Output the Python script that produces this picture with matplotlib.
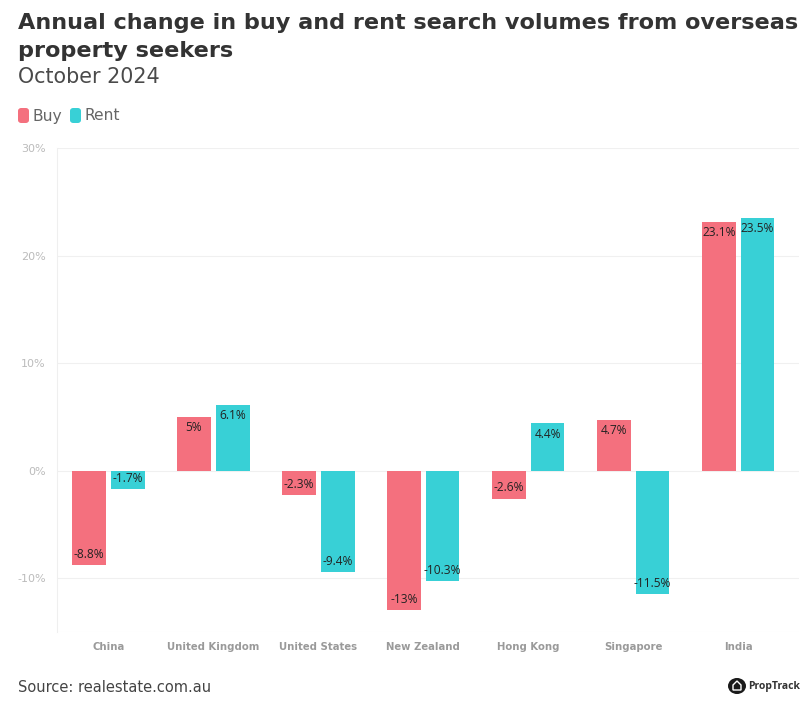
import matplotlib
matplotlib.use('Agg')
import matplotlib.pyplot as plt
from matplotlib.patches import FancyBboxPatch, Polygon

countries = ['China', 'United Kingdom', 'United States', 'New Zealand', 'Hong Kong', 'Singapore', 'India']
buy = [-8.8, 5, -2.3, -13, -2.6, 4.7, 23.1]
rent = [-1.7, 6.1, -9.4, -10.3, 4.4, -11.5, 23.5]
buy_labels = ['-8.8%', '5%', '-2.3%', '-13%', '-2.6%', '4.7%', '23.1%']
rent_labels = ['-1.7%', '6.1%', '-9.4%', '-10.3%', '4.4%', '-11.5%', '23.5%']
yticks = [-10, 0, 10, 20, 30]
ytick_labels = ['-10%', '0%', '10%', '20%', '30%']

buy_col = '#f4707e'
rent_col = '#38d0d6'
W, H = 800, 713

plt.rcParams['font.family'] = ['DejaVu Sans']
fig = plt.figure(figsize=(W / 100, H / 100), dpi=100)

# axes box in pixels: left 57, right 800, top 148 (30%), bottom 632
ax = fig.add_axes([57 / W, 1 - 632 / H, (799 - 57) / W, (632 - 148) / H])
bar_w = 0.32
index = list(range(len(countries)))
ax.bar([i - 0.185 for i in index], buy, bar_w, color=buy_col, zorder=3)
ax.bar([i + 0.185 for i in index], rent, bar_w, color=rent_col, zorder=3)

# labels sit inside the bar end
for i in index:
    for x, v, lab in [(i - 0.185, buy[i], buy_labels[i]), (i + 0.185, rent[i], rent_labels[i])]:
        if v < 0:
            ax.annotate(lab, (x, v), xytext=(0, 3), textcoords='offset points', ha='center', va='bottom',
                        fontsize=8.6, color='#222222', zorder=4, family='Open Sans')
        else:
            ax.annotate(lab, (x, v), xytext=(0, -3), textcoords='offset points', ha='center', va='top',
                        fontsize=8.6, color='#222222', zorder=4, family='Open Sans')

ax.set_xlim(-0.49, 6.58)
ax.set_ylim(-15, 30)
ax.set_yticks(yticks)
ax.set_yticklabels(ytick_labels)
ax.set_xticks(index)
ax.set_xticklabels(countries, fontweight='bold')
ax.tick_params(axis='y', length=0, labelsize=8, labelcolor='#bbbbbb', pad=8)
ax.tick_params(axis='x', length=0, labelsize=7.3, labelcolor='#9a9a9a', pad=7)
ax.grid(axis='y', color='#f0f0f0', lw=0.8, zorder=0)
for s in ['top', 'right', 'bottom']:
    ax.spines[s].set_visible(False)
ax.spines['left'].set_color('#efefef')
ax.axhline(-15, color='#efefef', lw=0.8, zorder=1)

fig.text(18 / W, 1 - 23 / H, 'Annual change in buy and rent search volumes from overseas', fontsize=16.1,
         fontweight='bold', color='#333333', va='center')
fig.text(18 / W, 1 - 51 / H, 'property seekers', fontsize=16.1, fontweight='bold', color='#333333', va='center')
fig.text(18 / W, 1 - 77 / H, 'October 2024', fontsize=14.9, color='#4a4a4a', va='center')

# legend
for x0, col, name in [(18, buy_col, 'Buy'), (70, rent_col, 'Rent')]:
    fig.add_artist(FancyBboxPatch((x0 / W, 1 - 123 / H), 11 / W, 15 / H, boxstyle='round,pad=0,rounding_size=0.004',
                                  transform=fig.transFigure, color=col, lw=0))
    fig.text((x0 + 15) / W, 1 - 116 / H, name, fontsize=11.2, color='#666666', va='center')

fig.text(18 / W, 1 - 688 / H, 'Source: realestate.com.au', fontsize=10.5, color='#444444', va='center')

# PropTrack logo
logo_x, logo_y = 737, 686
fig.add_artist(plt.Circle((logo_x / W, 1 - logo_y / H), 9 / W, transform=fig.transFigure, color='#1a1a1a', lw=0))
fig.add_artist(Polygon([((logo_x - 4) / W, 1 - (logo_y + 4) / H), ((logo_x + 4) / W, 1 - (logo_y + 4) / H),
                        ((logo_x + 4) / W, 1 - (logo_y - 1) / H), (logo_x / W, 1 - (logo_y - 5) / H),
                        ((logo_x - 4) / W, 1 - (logo_y - 1) / H)],
                       closed=True, transform=fig.transFigure, fill=False, ec='white', lw=1))
fig.text(748 / W, 1 - 686 / H, 'PropTrack', fontsize=7.5, fontweight='bold', color='#333333', va='center',
         family='Open Sans')

fig.savefig('out.png', dpi=100)
